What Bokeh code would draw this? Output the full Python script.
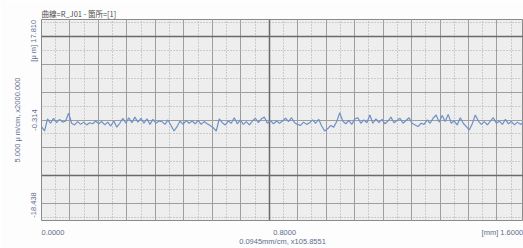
from bokeh.plotting import figure
from bokeh.models import Grid, FixedTicker, Range1d
from bokeh.embed import file_html
from bokeh.resources import INLINE

# ---- data ----
x_mm = [round(i * 0.01, 2) for i in range(161)]
profile_um = [
    -1.5, -2.3, -0.1, -0.9, 0.0, -0.8, -0.2, -0.7, -0.5, 0.9,
    -0.9, -1.2, -0.6, -1.1, -0.7, -1.2, -0.8, -1.0, -0.5, -1.0,
    -0.6, -1.2, -0.7, -1.4, -0.5, -1.6, -0.9, 0.0, -0.9, 0.1,
    -0.8, 0.2, -0.7, 0.0, -0.9, -0.1, -1.1, -0.2, -0.9, -0.5,
    -0.6, -1.1, -0.3, -1.3, -2.3, -1.5, -0.5, -1.1, -0.4, -0.9,
    -0.5, -1.0, -0.4, -1.1, -0.6, -1.0, -1.3, -1.7, -2.3, -0.1,
    -0.8, -1.2, -0.5, -0.9, 0.1, -1.0, -0.3, -1.1, -0.6, -1.2,
    -0.5, 0.0, -0.8, -0.1, 0.2, -0.9, -0.4, -1.0, -0.5, -0.9,
    -0.5, 0.0, -0.6, 0.1, -0.8, -1.1, -1.3, -0.7, -1.1, -0.8,
    -0.3, -0.9, -0.2, -1.4, -2.3, -1.9, -1.3, -1.6, -0.6, 1.0,
    -0.5, -1.0, -0.4, -1.1, -0.1, 0.1, -0.9, -0.3, -0.8, 0.6,
    -0.9, -0.1, -0.8, -0.2, -1.0, -0.5, 0.2, -0.8, -0.4, 0.0,
    -0.9, -0.4, 0.1, -0.9, -1.2, -1.5, -0.9, -1.1, -0.3, -0.9,
    0.0, 0.6, -0.7, 0.5, -0.6, 0.7, -0.9, -0.5, -1.2, 0.1,
    -0.9, -1.5, -2.1, -1.0, 0.6, -0.5, -1.1, -0.6, -1.2, -0.5,
    0.1, -0.9, -0.5, -1.1, -0.2, -1.0, -0.6, -1.2, -0.7, -1.1,
    -0.8,
]
y_center = -0.314
y_top = 17.810
y_bottom = -18.438
x_min, x_max = 0.0, 1.6
y_tick_labels = ["[μ m] 17.810", "-0.314", "-18.438"]
x_tick_labels = ["0.0000", "0.8000", "[mm] 1.6000"]
title_text = "曲線=R_J01 - 箇所=[1]"
y_scale_text = "5.000 μ m/cm, x2000.000"
x_scale_text = "0.0945mm/cm, x105.8551"

x_cm = 0.0945   # mm per grid cm
y_cm = 5.0      # um per grid cm

# grid positions (paper cm grid)
xg_solid = [k * x_cm for k in range(0, 17)]
xg_dot = [(k + 0.5) * x_cm for k in range(0, 17)]
xg_thick = [8 * x_cm]
yg_solid = [y_center + k * y_cm for k in range(-3, 4)]
yg_dot = [y_center + (k + 0.5) * y_cm for k in range(-4, 4)]
yg_thick = [y_center + 3 * y_cm, y_center - 2 * y_cm]

# label anchor positions (where the label texts sit along each axis)
y_label_pos = [13.98, -0.314, -15.64]
x_label_pos = [0.038, 0.807, 1.53]

cjk = "Noto Sans CJK JP"
font = "Liberation Sans"
tc = "#5d6d8c"

p = figure(width=523, height=248, output_backend="svg", toolbar_location=None,
           x_range=Range1d(x_min, x_max), y_range=Range1d(y_bottom, y_top),
           min_border_left=41, min_border_right=0, min_border_top=19,
           min_border_bottom=21)
p.background_fill_color = "#eeeeee"
p.border_fill_color = "#fdfdfd"
p.outline_line_color = "#8a8a8a"
p.outline_line_width = 1
p.grid.visible = False

p.title.text = title_text
p.title.text_font = cjk
p.title.text_font_size = "7.5px"
p.title.text_font_style = "normal"
p.title.text_color = "#4a4a4a"
p.title.standoff = 1
p.title.offset = 0

for ax in (p.xaxis[0], p.yaxis[0]):
    ax.axis_line_color = None
    ax.major_tick_line_color = None
    ax.minor_tick_line_color = None
    ax.major_tick_out = 0
    ax.major_tick_in = 0
    ax.minor_tick_out = 0
    ax.minor_tick_in = 0
    ax.major_label_text_font = font
    ax.major_label_text_font_size = "7.5px"
    ax.major_label_text_color = tc
    ax.axis_label_text_font = font
    ax.axis_label_text_font_size = "7.5px"
    ax.axis_label_text_font_style = "normal"
    ax.axis_label_text_color = tc

p.yaxis.ticker = FixedTicker(ticks=y_label_pos)
p.yaxis.major_label_overrides = dict(zip(y_label_pos, y_tick_labels))
p.yaxis.major_label_orientation = "vertical"
p.yaxis.major_label_standoff = 3
p.yaxis.axis_label = y_scale_text
p.yaxis.axis_label_standoff = 5

p.xaxis.ticker = FixedTicker(ticks=x_label_pos)
p.xaxis.major_label_overrides = dict(zip(x_label_pos, x_tick_labels))
p.xaxis.major_label_standoff = 7
p.xaxis.axis_label = x_scale_text
p.xaxis.axis_label_standoff = -3

for dim, solid, dot in ((0, xg_solid, xg_dot), (1, yg_solid, yg_dot)):
    g = Grid(dimension=dim, ticker=FixedTicker(ticks=solid, minor_ticks=dot),
             grid_line_color="#9e9e9e", grid_line_width=1,
             minor_grid_line_color="#a8a8a8", minor_grid_line_dash="1 2",
             minor_grid_line_width=1)
    p.add_layout(g)
for dim, thick in ((0, xg_thick), (1, yg_thick)):
    g = Grid(dimension=dim, ticker=FixedTicker(ticks=thick),
             grid_line_color="#6a6a6a", grid_line_width=1.5)
    p.add_layout(g)

p.line(x_mm, profile_um, line_color="#6f90c8", line_width=1.2)

open("out.html", "w").write(file_html(p, INLINE))
